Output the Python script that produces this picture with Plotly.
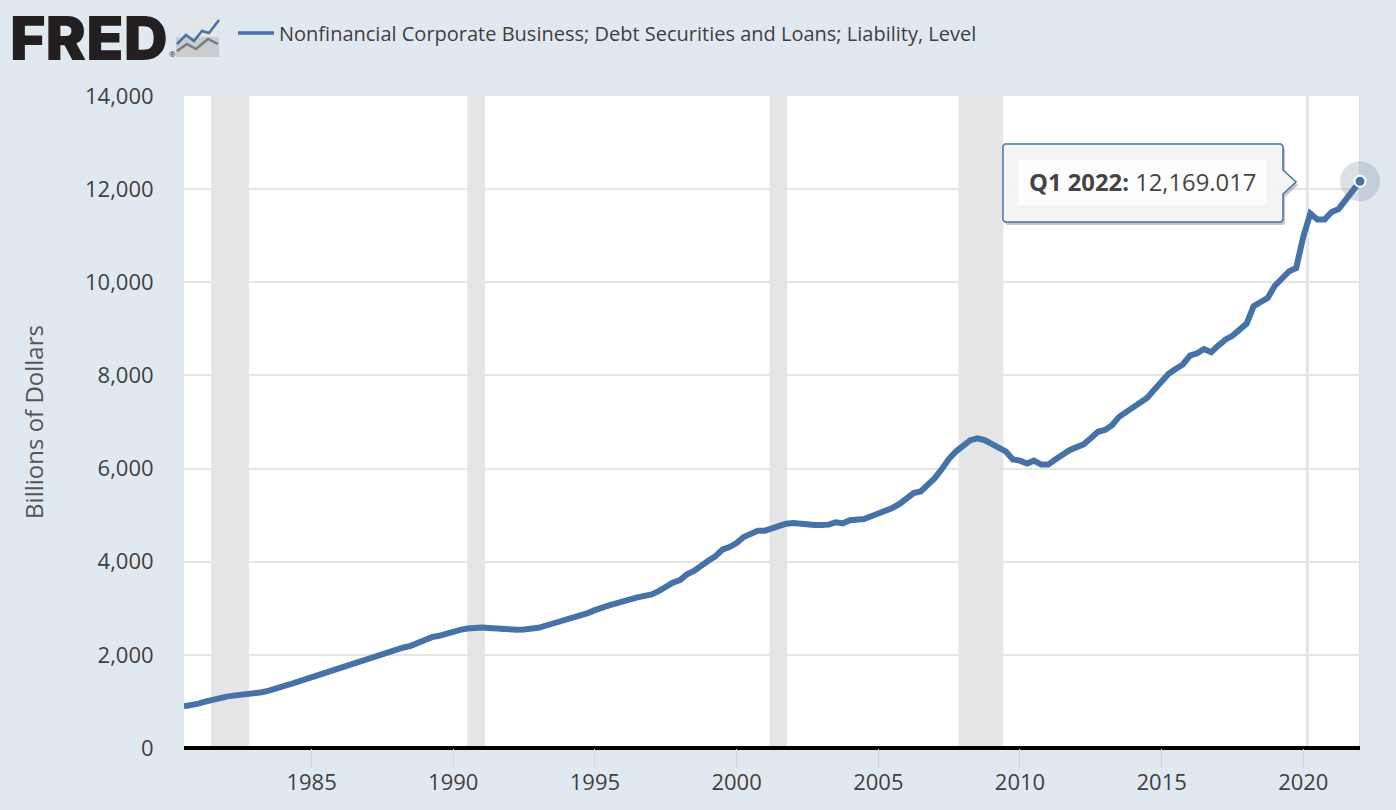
"""
FRED style line chart: nonfinancial corporate debt, quarterly, with recession bands.
"""

import pandas as pd
import plotly.graph_objects as go

# quarterly values, billions of dollars, 1980 Q3 .. 2022 Q1
debt_1980s = [896, 910,
              953, 996, 1040, 1068, 1104, 1125, 1140, 1147,
              1176, 1197, 1233, 1269, 1319, 1369, 1419, 1470,
              1498, 1541, 1599, 1656, 1699, 1756, 1814, 1871,
              1914, 1950, 2014, 2057, 2108, 2158, 2194, 2258,
              2315, 2380, 2409, 2459]
debt_1990s = [2509, 2538, 2566, 2581, 2585, 2575, 2565, 2535,
              2530, 2540, 2545, 2555, 2580, 2625, 2667, 2710,
              2767, 2810, 2853, 2896, 2960, 3025, 3061, 3104,
              3133, 3190, 3233, 3262, 3297, 3369, 3462, 3548,
              3606, 3728, 3800, 3892, 4020, 4115, 4258, 4315]
debt_2000s = [4400, 4530, 4602, 4667, 4667, 4724, 4789, 4817,
              4832, 4810, 4789, 4789, 4789, 4796, 4846, 4824,
              4889, 4896, 4918, 4975, 5032, 5104, 5154, 5240,
              5355, 5475, 5510, 5655, 5800, 5993, 6210, 6370,
              6495, 6610, 6650, 6610, 6530, 6460, 6370, 6195]
debt_2010s = [6170, 6107, 6170, 6085, 6085, 6195, 6300, 6395,
              6460, 6520, 6650, 6790, 6830, 6930, 7110, 7220,
              7305, 7430, 7520, 7700, 7858, 8035, 8140, 8235,
              8425, 8475, 8567, 8497, 8640, 8766, 8850, 8993,
              9113, 9490, 9580, 9667, 9930, 10070, 10234, 10305]
debt_2020s = [10979, 11475, 11347, 11347, 11510, 11575, 11775, 11975, 12169.017]

recession_start = ["1981-06-15", "1990-07-01", "2001-03-01", "2007-11-01", "2020-02-01"]
recession_end = ["1982-10-15", "1991-02-15", "2001-10-15", "2009-06-01", "2020-03-15"]

y_ticks = [0, 2000, 4000, 6000, 8000, 10000, 12000, 14000]
x_tick_years = [1985, 1990, 1995, 2000, 2005, 2010, 2015, 2020]

series_name = "Nonfinancial Corporate Business; Debt Securities and Loans; Liability, Level"

debt = debt_1980s + debt_1990s + debt_2000s + debt_2010s + debt_2020s
dates = pd.date_range("1980-07-01", periods=len(debt), freq="QS")

BG = "#e1e9f0"
BLUE = "#4572a7"
GRID = "#e6e6e6"
TEXT = "#3f3f3f"
FONT = "Open Sans"

W, H = 1396, 810
L, R, T, B = 184, 1360, 96, 748


def px(x):
    return (x - L) / (R - L)


def py(y):
    return (B - y) / (B - T)


def paper_path(points):
    # closed path in screen pixels, converted to paper coordinates
    parts = [f"{px(x):.5f},{py(y):.5f}" for x, y in points]
    return "M" + " L".join(parts) + " Z"


def open_path(points):
    parts = [f"{px(x):.5f},{py(y):.5f}" for x, y in points]
    return "M" + " L".join(parts)


callout = [(1005, 144), (1281, 144), (1283, 146), (1283, 170), (1296, 182), (1283, 194),
           (1283, 220), (1281, 222), (1005, 222), (1003, 220), (1003, 146)]
callout_shadow = [(x + 2, y + 3) for x, y in callout]

fig = go.Figure()

fig.add_trace(go.Scatter(x=dates, y=debt, mode="lines", name=series_name,
                         line=dict(color=BLUE, width=3.5), hoverinfo="skip"))
fig.add_trace(go.Scatter(x=dates, y=debt, mode="lines", showlegend=False,
                         line=dict(color=BLUE, width=6)))
# highlighted last point
fig.add_trace(go.Scatter(x=dates[-1:], y=debt[-1:], mode="markers", showlegend=False,
                         cliponaxis=False, hoverinfo="skip",
                         marker=dict(size=40, color="rgba(90,110,140,0.22)", line=dict(width=0))))
fig.add_trace(go.Scatter(x=dates[-1:], y=debt[-1:], mode="markers", showlegend=False,
                         cliponaxis=False,
                         marker=dict(size=11, color=BLUE, line=dict(color="white", width=2))))

shapes = []
for start, end in zip(recession_start, recession_end):
    shapes.append(dict(type="rect", xref="x", yref="paper", x0=start, x1=end, y0=0, y1=1,
                       fillcolor="#e5e5e5", line_width=0, layer="below"))
shapes.append(dict(type="line", xref="x", yref="paper", x0=dates[-1], x1=dates[-1], y0=0, y1=1,
                   line=dict(color="#c0c0c0", width=1), layer="below"))

# tooltip box
shapes.append(dict(type="path", xref="paper", yref="paper", path=paper_path(callout_shadow),
                   fillcolor="rgba(90,90,90,0.35)", line_width=0))
shapes.append(dict(type="path", xref="paper", yref="paper", path=paper_path(callout),
                   fillcolor="rgba(247,247,247,0.93)", line=dict(color=BLUE, width=1.5)))
shapes.append(dict(type="rect", xref="paper", yref="paper", x0=px(1018), x1=px(1266),
                   y0=py(205), y1=py(160), fillcolor="rgba(255,255,255,0.8)", line_width=0))

# little logo picture next to the wordmark
shapes.append(dict(type="rect", xref="paper", yref="paper", x0=px(176), x1=px(219),
                   y0=py(37), y1=py(17), fillcolor="#e3e6e8", line_width=0))
shapes.append(dict(type="rect", xref="paper", yref="paper", x0=px(176), x1=px(219),
                   y0=py(57), y1=py(37), fillcolor="#c9cdd0", line_width=0))
shapes.append(dict(type="path", xref="paper", yref="paper",
                   path=open_path([(177, 51), (187, 44), (196, 49), (208, 39), (218, 44)]),
                   line=dict(color="#7b7b7b", width=2.5)))
shapes.append(dict(type="path", xref="paper", yref="paper",
                   path=open_path([(177, 44), (186, 35), (194, 41), (202, 31), (209, 33), (219, 20)]),
                   line=dict(color=BLUE, width=2.5)))

annotations = [
    dict(text="FRED", xref="paper", yref="paper", x=px(89), y=py(38), showarrow=False,
         xanchor="center", yanchor="middle",
         font=dict(family="Inter", size=61, color="#231f20", weight=900)),
    dict(text="®", xref="paper", yref="paper", x=px(172), y=py(54), showarrow=False,
         xanchor="center", yanchor="middle",
         font=dict(family=FONT, size=8, color="#231f20")),
    dict(text="<b>Q1 2022:</b> 12,169.017", xref="paper", yref="paper", x=px(1142), y=py(182),
         showarrow=False, xanchor="center", yanchor="middle",
         font=dict(family=FONT, size=23.8, color="#444444")),
]

fig.update_layout(
    width=W,
    height=H,
    margin=dict(l=L, r=W - R, t=T, b=H - B, autoexpand=False),
    paper_bgcolor=BG,
    plot_bgcolor="white",
    font=dict(family=FONT, size=22, color=TEXT),
    shapes=shapes,
    annotations=annotations,
    hovermode=False,
    legend=dict(x=px(233), y=py(33), xanchor="left", yanchor="middle", orientation="h",
                bgcolor="rgba(0,0,0,0)", font=dict(size=20, color=TEXT),
                itemwidth=36),
    xaxis=dict(
        type="date",
        range=[dates[0], dates[-1]],
        tickvals=[f"{y}-01-01" for y in x_tick_years],
        ticktext=[str(y) for y in x_tick_years],
        ticks="outside", ticklen=19, tickwidth=1, tickcolor="#ccd6eb",
        ticklabelstandoff=-4,
        showgrid=False, showline=False, zeroline=False,
        tickfont=dict(size=22, color=TEXT),
    ),
    yaxis=dict(
        range=[0, 14000],
        tickvals=y_ticks,
        tickformat=",d",
        ticks="outside", ticklen=25, tickcolor="rgba(0,0,0,0)",
        showgrid=True, gridcolor=GRID, gridwidth=2,
        zeroline=True, zerolinecolor="black", zerolinewidth=4,
        showline=False,
        tickfont=dict(size=22, color=TEXT),
        title=dict(text="Billions of Dollars", font=dict(size=24, color="#555555"), standoff=34),
    ),
)

fig.write_html(
    "out.html",
    config={"displayModeBar": False},
    post_script="document.body.style.margin='0';document.body.style.background='#e1e9f0';"
                "document.documentElement.style.overflow='hidden';",
)
